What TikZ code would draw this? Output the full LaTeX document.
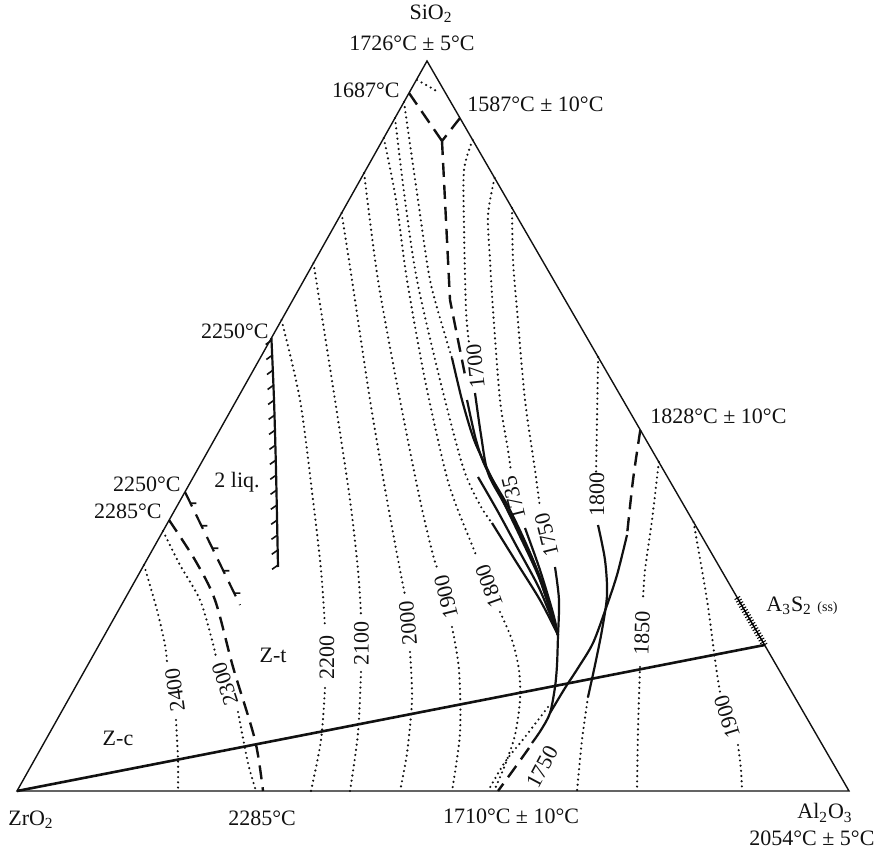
\documentclass[tikz,border=0pt]{standalone}
\usepackage{fontspec}
\setmainfont{Liberation Serif}
\usetikzlibrary{positioning,calc,decorations.markings}
\definecolor{phaseink}{HTML}{111111}

\tikzset{
  edge/.style={line width=0.7pt,phaseink},
  tieline/.style={line width=1.3pt,phaseink},
  bound/.style={line width=1.1pt,phaseink},
  bounddash/.style={line width=1.2pt,phaseink,dash pattern=on 7pt off 4pt},
  iso/.style={line width=1.2pt,phaseink,line cap=round,dash pattern=on 0pt off 2.6pt},
  lab/.style={font=\fontsize{11}{13}\selectfont,inner sep=1pt,text=phaseink},
  hatchleft/.style={bound,postaction={decorate},decoration={markings,
    mark=between positions 0.01 and 1 step 7.5pt with {\draw[solid,line width=0.8pt] (0,0) -- (2pt,-3pt);}}},
  hatchright/.style={bound,dash pattern=on 8pt off 4.5pt,postaction={decorate},decoration={markings,
    mark=between positions 0.1 and 1 step 12.5pt with {\draw[solid,line width=0.8pt] (0,0) -- (1.3pt,2.7pt);}}},
  ssticks/.style={postaction={decorate},decoration={markings,
    mark=between positions 0 and 1 step 1.5pt with {\draw[solid,line width=0.5pt] (0,-1.6pt) -- (0,1.6pt);}}},
}

\begin{document}
\begin{tikzpicture}[x=0.5pt,y=-0.5pt]
\useasboundingbox (0,0) rectangle (876,849);
\coordinate (Z) at (17,791);
\coordinate (A) at (849,791);
\coordinate (S) at (427,61);
\coordinate (Ass) at (764.6,645);
\coordinate (Ass0) at (737.4,598);
\coordinate (E1687) at (409,93);
\coordinate (E1587) at (460,118);
\coordinate (Y) at (442,141);
\coordinate (E1828) at (640.3,430);
\coordinate (P) at (558,635);
\coordinate (Q) at (550,713);

% triangle and join ZrO2 -- A3S2
\draw[edge] (Z) -- (A) -- (S) -- cycle;
\draw[tieline] (Z) -- (Ass);
\draw[ssticks] (Ass0) -- (Ass);

% boundaries near SiO2
\draw[bounddash] (E1687) -- (Y);
\draw[bounddash] (E1587) -- (Y);
\draw[bounddash] (Y) -- (450,300) -- (466,380);

% isotherms, left side
\draw[iso] plot[smooth] coordinates {(417,80) (428,86) (438,92)};
\draw[iso] plot[smooth] coordinates {(144,565) (157,610) (165,645) (167,662)};
\draw[iso] plot[smooth] coordinates {(176,720) (178,760) (178,791)};
\draw[iso] plot[smooth] coordinates {(163,531) (180,565) (200,600) (212,640) (216,657)};
\draw[iso] plot[smooth] coordinates {(238,712) (248,763) (256,791)};
\draw[iso] plot[smooth] coordinates {(281.5,320) (300,400) (313,500) (321,570) (325,627)};
\draw[iso] plot[smooth] coordinates {(325,688) (321,740) (311,791)};
\draw[iso] plot[smooth] coordinates {(313.5,263) (335,400) (350,500) (358,570) (361,615)};
\draw[iso] plot[smooth] coordinates {(361,672) (358,733) (350,791)};
\draw[iso] plot[smooth] coordinates {(341.6,213) (352,280) (370,400) (387,500) (400,570) (405,595)};
\draw[iso] plot[smooth] coordinates {(410,652) (412,700) (407,753) (400,791)};
\draw[iso] plot[smooth] coordinates {(364.1,173) (378,280) (400,400) (420,500) (433,555) (438,570)};
\draw[iso] plot[smooth] coordinates {(452,627) (459,670) (460,733) (452,791)};
\draw[iso] plot[smooth] coordinates {(383.8,138) (396,200) (407,280) (425,380) (445,470) (456,505) (470,540) (476,555)};
\draw[iso] plot[smooth] coordinates {(500,612) (512,640) (519,670) (520,700) (515,735) (505,765) (494,791)};
\draw[iso] plot[smooth] coordinates {(395,118) (405,200) (417,280) (440,380) (463,467) (480,505) (492,523)};
\draw[iso] plot[smooth] coordinates {(404,102) (418,200) (430,280) (445,335) (452,358)};

% isotherms, right side
\draw[iso] plot[smooth] coordinates {(472.7,140) (464,170) (464,227) (466,310) (469,343)};
\draw[iso] plot[smooth] coordinates {(494.6,178) (488,215) (490,260) (493,310) (500,400) (508,450) (511,472)};
\draw[iso] plot[smooth] coordinates {(512,208) (513,260) (517,310) (525,400) (535,470) (540,508)};
\draw[iso] plot[smooth] coordinates {(598.1,357) (597,420) (596,475)};
\draw[iso] plot[smooth] coordinates {(588,697) (582,740) (577,791)};
\draw[iso] plot[smooth] coordinates {(658.8,462) (652,520) (645,570) (643,600)};
\draw[iso] plot[smooth] coordinates {(640,667) (638,730) (637,791)};
\draw[iso] plot[smooth] coordinates {(693.5,522) (707,600) (716,667) (720,692)};
\draw[iso] plot[smooth] coordinates {(738,745) (741,770) (742,791)};
\draw[iso] plot[smooth] coordinates {(548,707) (525,737) (505,762) (488,791)};

% solid liquidus curves meeting at P
\draw[bound] plot[smooth] coordinates {(452,358) (462,400) (473,437) (483,460) (500,495) (517,530) (540,580) (P)};
\draw[bound] plot[smooth] coordinates {(467,400) (476,440) (486,468) (510,510) (535,565) (P)};
\draw[bound] plot[smooth] coordinates {(475,393) (481,435) (488,473) (505,505) (527,547) (545,590) (P)};
\draw[bound] plot[smooth] coordinates {(478,477) (497,510) (517,547) (540,590) (P)};
\draw[bound] plot[smooth] coordinates {(492,523) (515,560) (540,600) (P)};
\draw[bound] plot[smooth] coordinates {(525,528) (540,570) (553,613) (P)};
\draw[bound] plot[smooth] coordinates {(555,567) (559,600) (P)};
\draw[bound] plot[smooth] coordinates {(P) (557,665) (555,687) (Q) (541,730) (532,743)};
\draw[bounddash] (529,748) -- (514,769) -- (498,791);
\draw[bounddash] plot[smooth] coordinates {(E1828) (633,480) (627,535)};
\draw[bound] plot[smooth] coordinates {(627,535) (617,575) (606,608) (593,643) (578,668) (565,688) (Q)};
\draw[bound] plot[smooth] coordinates {(598,525) (605,560) (607,595) (602,630) (595,665) (588,697)};

% two-liquid region and ZrO2 boundaries
\draw[hatchleft] plot[smooth] coordinates {(271.4,338) (274,400) (276,470) (278,567)};
\draw[hatchright] (185,492) -- (240,605);
\draw[bounddash] plot[smooth] coordinates {(169,520) (195,560) (215,600) (233,667) (255,740) (263,791)};

% isotherm labels
\node[lab,rotate=98] (t2400) at (175,690) {2400};
\node[lab,rotate=108] (t2300) at (225,684) {2300};
\node[lab,rotate=90] (t2200) at (327,657) {2200};
\node[lab,rotate=90] (t2100) at (361.5,643) {2100};
\node[lab,rotate=95] (t2000) at (408,623) {2000};
\node[lab,rotate=104] (t1900) at (446,597) {1900};
\node[lab,rotate=110] (t1800a) at (489,586) {1800};
\node[lab,rotate=96] (t1700) at (475.5,366) {1700};
\node[lab,rotate=104] (t1735) at (513.5,498) {1735};
\node[lab,rotate=104] (t1750a) at (546.5,535) {1750};
\node[lab,rotate=90] (t1800b) at (597,494) {1800};
\node[lab,rotate=88] (t1850) at (642,633) {1850};
\node[lab,rotate=107] (t1900b) at (727,717) {1900};
\node[lab,rotate=62] (t1750b) at (542,767) {1750};

% phase fields
\node[lab] (liq) at (237,482) {2 liq.};
\node[lab] (zt) at (273,655) {Z-t};
\node[lab] (zc) at (118,738) {Z-c};

% temperatures on the edges
\node[lab,left=0pt] (m1687) at (402,90) {1687°C};
\node[lab,right=0pt] (m1587) at (465,104) {1587°C ± 10°C};
\node[lab,left=0pt] (m2250a) at (271,331) {2250°C};
\node[lab,left=0pt] (m2250b) at (183,484) {2250°C};
\node[lab,left=0pt] (m2285a) at (164,511) {2285°C};
\node[lab,right=0pt] (m1828) at (648,416) {1828°C ± 10°C};
\node[lab,right=0pt] (ass) at (764,606) {A\textsubscript{3}S\textsubscript{2} {\scriptsize (ss)}};
\node[lab] (m2285b) at (262,818) {2285°C};
\node[lab] (m1710) at (511,816) {1710°C ± 10°C};

% components
\node[lab] (sio2) at (431,14) {SiO\textsubscript{2}};
\node[lab] (msio2) at (412,43) {1726°C ± 5°C};
\node[lab] (zro2) at (31,820) {ZrO\textsubscript{2}};
\node[lab] (al2o3) at (825,813) {Al\textsubscript{2}O\textsubscript{3}};
\node[lab,right=0pt] (mal2o3) at (747,838) {2054°C ± 5°C};
\end{tikzpicture}
\end{document}
